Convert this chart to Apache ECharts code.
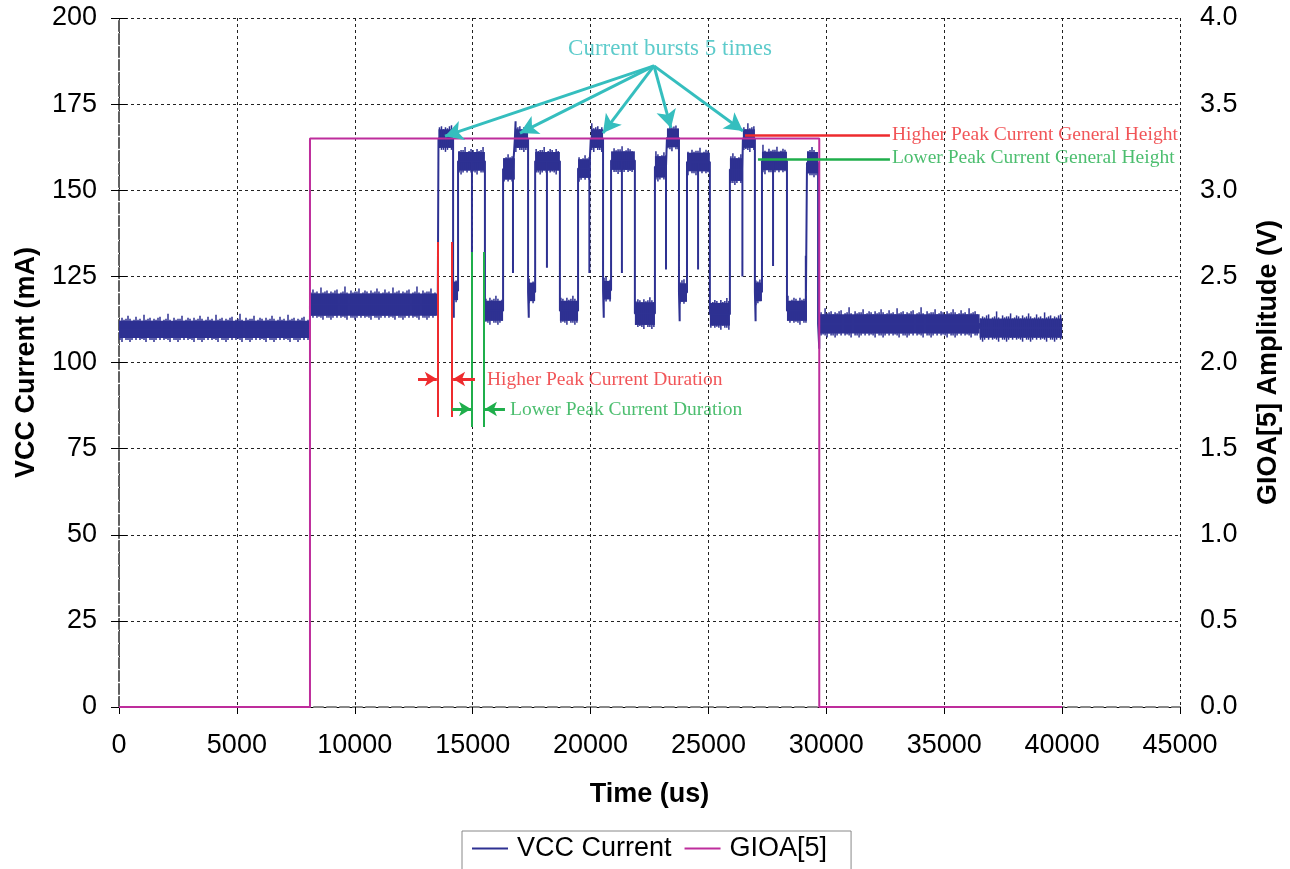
<!DOCTYPE html>
<html>
<head>
<meta charset="utf-8">
<script src="https://cdn.jsdelivr.net/npm/echarts@6/dist/echarts.min.js"></script>
<style>html,body{margin:0;padding:0;background:#fff}#c{width:1290px;height:869px}</style>
</head>
<body>
<div id="c"></div>
<script>
// ---- Data ----
// VCC current trace: flat segments (start time us, end time us, level mA, noise half-band mA)
const vccStart = [0, 8100, 13550, 14170, 14380, 15520, 16290, 16790, 17350, 17650, 18700, 19470, 20010, 20530, 20870, 21880, 22730, 23240, 23750, 24090, 25060, 25910, 26460, 26970, 27270, 28330, 29180, 29650, 36500];
const vccEnd   = [8100, 13520, 14170, 14380, 15520, 16290, 16790, 17350, 17650, 18700, 19470, 20010, 20530, 20870, 21880, 22730, 23240, 23750, 24090, 25060, 25910, 26460, 26970, 27270, 28330, 29180, 29650, 36500, 40000];
const vccLevel = [109.6, 116.8, 165.0, 120.8, 158.4, 115.0, 156.2, 165.0, 120.5, 158.4, 115.0, 156.3, 165.0, 121.0, 158.6, 114.2, 156.8, 165.2, 120.3, 158.2, 114.0, 156.0, 165.0, 120.5, 158.5, 115.0, 158.0, 111.2, 110.0];
const vccNoise = [2.5, 3.2, 2.7, 2.7, 2.7, 2.9, 3.1, 2.7, 2.7, 2.7, 2.9, 2.7, 2.7, 2.7, 2.7, 3.3, 3.1, 2.7, 2.7, 2.7, 3.3, 3.3, 2.7, 2.7, 2.7, 2.9, 3.1, 2.8, 2.8];
// short spikes of the trace (time us, value mA)
const spikeT = [14200, 14970, 16710, 16820, 17380, 18150, 19950, 20560, 21330, 23200, 23780, 24560, 26440, 27000, 27740, 29130, 29700];
const spikeV = [113, 129.5, 126, 170, 113, 127.5, 126, 113, 126, 127, 112, 127, 125, 112, 128, 131, 104];
// GIOA[5] signal (time us, volts)
const gioT = [0, 8100, 8100, 29700, 29700, 40000];
const gioV = [0, 0, 3.3, 3.3, 0, 0];
// Axes
const xTicks = {min: 0, max: 45000, step: 5000};
const yLeftTicks = {min: 0, max: 200, step: 25};
const yRightTicks = {min: 0, max: 4, step: 0.5};
// Annotation anchors (data coordinates)
const burstOrigin = [22690, 186.1];
const burstTipsT = [13826, 17006, 20526, 23410, 26464];
const burstTipsV = [165.7, 166.6, 166.6, 168.1, 167.2];

const NAVY = '#2E3192', MAG = '#BE2D9C', RED = '#EE2B2E', GREEN = '#1FAE4B', CYAN = '#35BEBE';
const SANS = '"Liberation Sans", Arial, sans-serif';
const SERIF = '"Liberation Serif", "Times New Roman", serif';
// purely visual edge texture (pixels) for the noisy band look
const EDGE_TEXTURE = [0, 3, 1, 2, 5, 2, 0, 1, 4, 1, 2, 0, 6, 1, 2, 3, 0, 2, 1, 3, 4, 0, 1, 2, 7, 1, 0, 3, 1, 2, 2, 5, 0, 1, 3, 2];

// build trace
const trace = [];
vccStart.forEach((s, i) => {
  const e = vccEnd[i], lv = vccLevel[i];
  trace.push([s, lv]);
  spikeT.forEach((t, j) => { if (t > s && t < e) trace.push([t, lv], [t, spikeV[j]], [t, lv]); });
  trace.push([e, lv]);
});
const bands = vccStart.map((s, i) => [s, vccEnd[i], vccLevel[i] - vccNoise[i], vccLevel[i] + vccNoise[i]]);
const gio = gioT.map((t, i) => [t, gioV[i]]);

function seg(a, b, color, width, arrowEnd, arrowSize) {
  return [{coord: a, symbol: 'none'}, {coord: b, symbol: arrowEnd ? 'arrow' : 'none', symbolSize: arrowSize || 12,
    lineStyle: {color: color, width: width, type: 'solid'}, itemStyle: {color: color}}];
}
const marks = [];
burstTipsT.forEach((t, i) => marks.push(seg(burstOrigin, [t, burstTipsV[i]], CYAN, 3, true, [15, 18])));
marks.push(seg([13529, 135], [13529, 84.2], RED, 2));
marks.push(seg([14123, 135], [14123, 84.2], RED, 2));
marks.push(seg([14971, 132.1], [14971, 81.3], GREEN, 2));
marks.push(seg([15480, 132.1], [15480, 81.3], GREEN, 2));
marks.push(seg([12681, 95.2], [13480, 95.2], RED, 3, true, [11, 12]));
marks.push(seg([15098, 95.2], [14170, 95.2], RED, 3, true, [11, 12]));
marks.push(seg([14123, 86.5], [14930, 86.5], GREEN, 3, true, [11, 12]));
marks.push(seg([16370, 86.5], [15520, 86.5], GREEN, 3, true, [11, 12]));
marks.push(seg([26549, 165.9], [32698, 165.9], RED, 2.5));
marks.push(seg([27100, 159.1], [32698, 159.1], GREEN, 2.5));

const labels = [
  {value: [23368, 191], text: 'Current bursts 5 times', color: CYAN, size: 23, align: 'center'},
  {value: [32783, 166], text: 'Higher Peak Current General Height', color: RED, size: 19.5, align: 'left'},
  {value: [32783, 159.4], text: 'Lower Peak Current General Height', color: GREEN, size: 19.5, align: 'left'},
  {value: [15607, 94.9], text: 'Higher Peak Current Duration', color: RED, size: 19.5, align: 'left'},
  {value: [16582, 86.2], text: 'Lower Peak Current Duration', color: GREEN, size: 19.5, align: 'left'}
];

const chart = echarts.init(document.getElementById('c'), null, {renderer: 'canvas'});
chart.setOption({
  animation: false,
  backgroundColor: '#fff',
  grid: {left: 119, right: 110, top: 18, bottom: 162, outerBoundsMode: 'none'},
  legend: {
    data: [{name: 'VCC Current', icon: 'rect'}, {name: 'GIOA[5]', icon: 'rect'}],
    left: 462, top: 831, itemWidth: 36, itemHeight: 2, itemGap: 13,
    padding: [4, 24, 14, 10], borderColor: '#888', borderWidth: 1,
    textStyle: {fontFamily: SANS, fontSize: 27, color: '#000', padding: [0, 0, 0, 4]}
  },
  xAxis: [{
    type: 'value', min: xTicks.min, max: xTicks.max, interval: xTicks.step,
    name: 'Time (us)', nameLocation: 'middle', nameGap: 74,
    nameTextStyle: {fontFamily: SANS, fontSize: 27, fontWeight: 'bold', color: '#000'},
    axisLine: {show: true, onZero: false, lineStyle: {color: '#000', width: 1}},
    axisTick: {show: true, length: 7, lineStyle: {color: '#000'}},
    axisLabel: {fontFamily: SANS, fontSize: 27, color: '#000', margin: 25, formatter: v => String(v)},
    splitLine: {show: true, lineStyle: {color: '#222', width: 1, type: [3, 3]}}
  }, {
    type: 'value', position: 'top', min: xTicks.min, max: xTicks.max,
    axisLine: {show: true, lineStyle: {color: '#888', width: 2, type: [9, 4]}},
    axisTick: {show: false}, axisLabel: {show: false}, splitLine: {show: false}
  }],
  yAxis: [{
    type: 'value', min: yLeftTicks.min, max: yLeftTicks.max, interval: yLeftTicks.step,
    name: 'VCC Current (mA)', nameLocation: 'middle', nameGap: 79, nameRotate: 90,
    nameTextStyle: {fontFamily: SANS, fontSize: 27, fontWeight: 'bold', color: '#000'},
    axisLine: {show: true, lineStyle: {color: '#808080', width: 2, type: [10, 3]}},
    axisTick: {show: true, length: 8, lineStyle: {color: '#000'}},
    axisLabel: {fontFamily: SANS, fontSize: 27, color: '#000', margin: 22},
    splitLine: {show: true, lineStyle: {color: '#222', width: 1, type: [3, 3]}}
  }, {
    type: 'value', position: 'right', min: yRightTicks.min, max: yRightTicks.max, interval: yRightTicks.step,
    name: 'GIOA[5] Amplitude (V)', nameLocation: 'middle', nameGap: 75, nameRotate: 90,
    nameTextStyle: {fontFamily: SANS, fontSize: 27, fontWeight: 'bold', color: '#000'},
    axisLine: {show: true, lineStyle: {color: '#555', width: 1.5, type: [10, 3]}},
    axisTick: {show: true, length: 8, lineStyle: {color: '#000'}},
    axisLabel: {fontFamily: SANS, fontSize: 27, color: '#000', margin: 20, formatter: v => v.toFixed(1)},
    splitLine: {show: false}
  }],
  series: [
    {
      name: 'VCC noise', type: 'custom', xAxisIndex: 0, yAxisIndex: 0, silent: true, z: 2,
      encode: {x: [0, 1], y: [2, 3]}, data: bands,
      renderItem: function (params, api) {
        const a = api.coord([api.value(0), api.value(3)]);
        const b = api.coord([api.value(1), api.value(2)]);
        const children = [{type: 'rect', shape: {x: a[0], y: a[1], width: b[0] - a[0], height: b[1] - a[1]}, style: {fill: NAVY}}];
        const n = EDGE_TEXTURE.length;
        let k = params.dataIndex * 7;
        for (let x = a[0] + 1; x < b[0] - 1; x += 2, k++) {
          const up = EDGE_TEXTURE[k % n], dn = EDGE_TEXTURE[(k * 3 + 5) % n];
          if (up + dn === 0) continue;
          children.push({type: 'line', shape: {x1: x, y1: a[1] - up, x2: x, y2: b[1] + dn}, style: {stroke: NAVY, lineWidth: 1.5}});
        }
        return {type: 'group', children: children};
      }
    },
    {
      name: 'VCC Current', type: 'line', xAxisIndex: 0, yAxisIndex: 0, data: trace, showSymbol: false, symbol: 'none',
      lineStyle: {color: NAVY, width: 2}, itemStyle: {color: NAVY}, z: 3
    },
    {
      name: 'GIOA[5]', type: 'line', xAxisIndex: 0, yAxisIndex: 1, data: gio, showSymbol: false, symbol: 'none',
      lineStyle: {color: MAG, width: 2}, itemStyle: {color: MAG}, z: 4
    },
    {
      name: 'annotations', type: 'scatter', xAxisIndex: 0, yAxisIndex: 0, symbolSize: 0, silent: true, z: 6,
      data: labels.map(l => ({
        value: l.value,
        label: {show: true, position: l.align === 'center' ? 'inside' : 'right', distance: 0, formatter: l.text,
          color: l.color, fontFamily: SERIF, fontSize: l.size, align: l.align, verticalAlign: 'middle'}
      })),
      markLine: {silent: true, animation: false, symbol: ['none', 'none'], label: {show: false}, data: marks}
    }
  ]
});
</script>
</body>
</html>
